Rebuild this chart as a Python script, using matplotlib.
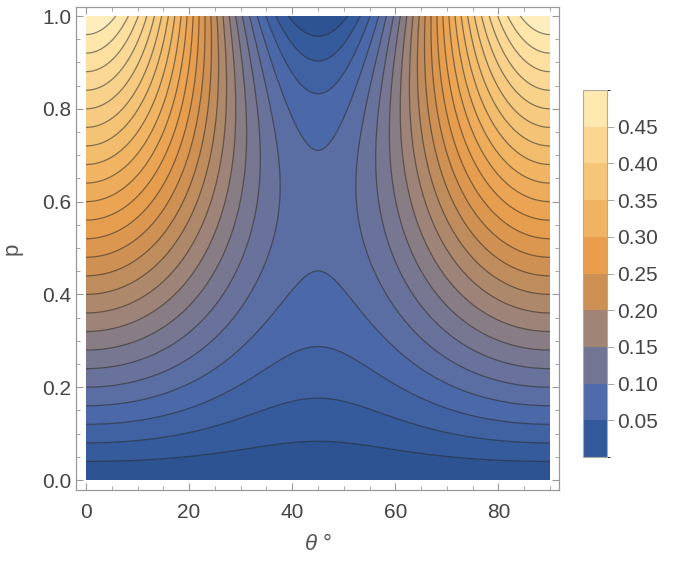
import numpy as np
import matplotlib
matplotlib.use("Agg")
import matplotlib.pyplot as plt
from matplotlib.colors import LinearSegmentedColormap, ListedColormap, BoundaryNorm
from matplotlib.cm import ScalarMappable

plt.rcParams['font.family'] = ['Liberation Sans', 'DejaVu Sans']
plt.rcParams['mathtext.fontset'] = 'custom'
plt.rcParams['mathtext.it'] = 'Liberation Sans:italic'
plt.rcParams['mathtext.rm'] = 'Liberation Sans'

# surface: value = p/2 * (cos^2 2t + sin^2 2t * h(p))
# h(p) = h0 * (1 - p^2) * (1 - dip * p * (1 - p))
h0 = 0.5
dip = 0.44

contour_levels = np.arange(0.0, 0.52, 0.02)
legend_levels = np.arange(0.0, 0.55, 0.05)
legend_ticks = [0.05, 0.10, 0.15, 0.20, 0.25, 0.30, 0.35, 0.40, 0.45]
x_ticks = [0, 20, 40, 60, 80]
y_ticks = [0.0, 0.2, 0.4, 0.6, 0.8, 1.0]

# Mathematica-like density gradient (blue -> grey -> orange -> cream)
grad_pos = [0.0, 0.05, 0.15, 0.25, 0.35, 0.45, 0.55, 0.65, 0.75, 0.85, 0.95, 1.0]
grad_rgb = [(0.16, 0.31, 0.55), (0.20, 0.35, 0.61), (0.31, 0.42, 0.67),
            (0.45, 0.46, 0.58), (0.63, 0.52, 0.46), (0.80, 0.56, 0.33),
            (0.91, 0.62, 0.30), (0.94, 0.70, 0.38), (0.96, 0.77, 0.47),
            (0.98, 0.84, 0.57), (1.00, 0.91, 0.68), (1.00, 0.95, 0.78)]
cmap = LinearSegmentedColormap.from_list("m10", list(zip(grad_pos, grad_rgb)))

theta = np.linspace(0, 90, 400)
p = np.linspace(0, 1, 400)
T, P = np.meshgrid(theta, p)
c2 = np.cos(np.radians(2 * T)) ** 2
s2 = 1 - c2
h = h0 * (1 - P ** 2) * (1 - dip * P * (1 - P))
Z = P / 2 * (c2 + s2 * h)

fig = plt.figure(figsize=(6.75, 5.64), dpi=100)
ax = fig.add_axes([76 / 675, 1 - 490 / 564, 483 / 675, 483 / 564])

ax.contourf(T, P, Z, levels=contour_levels, cmap=cmap, vmin=0, vmax=0.5)
ax.contour(T, P, Z, levels=contour_levels[1:-1], colors=[(0.15, 0.15, 0.15, 0.55)],
           linewidths=0.9)

ax.set_xlim(-10 / 5.156, 90 + 9 / 5.156)
ax.set_ylim(-10 / 464, 1 + 9 / 464)
ax.set_xticks(x_ticks)
ax.set_yticks(y_ticks)
ax.set_yticklabels([f"{v:.1f}" for v in y_ticks])
ax.set_xticks(np.arange(0, 91, 5), minor=True)
ax.set_yticks(np.arange(0, 1.01, 0.05), minor=True)
ax.tick_params(which='both', direction='in', top=True, right=True, color='#999999',
               labelcolor='#444444', labelsize=15)
ax.tick_params(which='major', length=5, width=0.8)
ax.tick_params(which='minor', length=3, width=0.6)
ax.tick_params(axis='x', pad=9)
for s in ax.spines.values():
    s.set_color('#999999')
    s.set_linewidth(0.9)

ax.set_xlabel(r"$\theta$ °", fontsize=16, color='#555555', labelpad=9)
ax.set_ylabel("p", fontsize=16, color='#555555', labelpad=14)

# legend bar with coarse bands
band_mid = (legend_levels[:-1] + legend_levels[1:]) / 2
band_cmap = ListedColormap([cmap(v / 0.5) for v in band_mid])
band_norm = BoundaryNorm(legend_levels, band_cmap.N)
cax = fig.add_axes([583 / 675, 1 - 457 / 564, 24 / 675, 367 / 564])
cb = fig.colorbar(ScalarMappable(norm=band_norm, cmap=band_cmap), cax=cax,
                  ticks=legend_ticks)
cb.ax.set_yticklabels([f"{v:.2f}" for v in legend_ticks])
cb.ax.tick_params(length=5, width=0.6, color='#999999', labelcolor='#444444',
                  labelsize=15, pad=2)
cb.outline.set_edgecolor('#aaaaaa')
cb.outline.set_linewidth(0.8)

fig.savefig("out.png", dpi=100, facecolor='white')
